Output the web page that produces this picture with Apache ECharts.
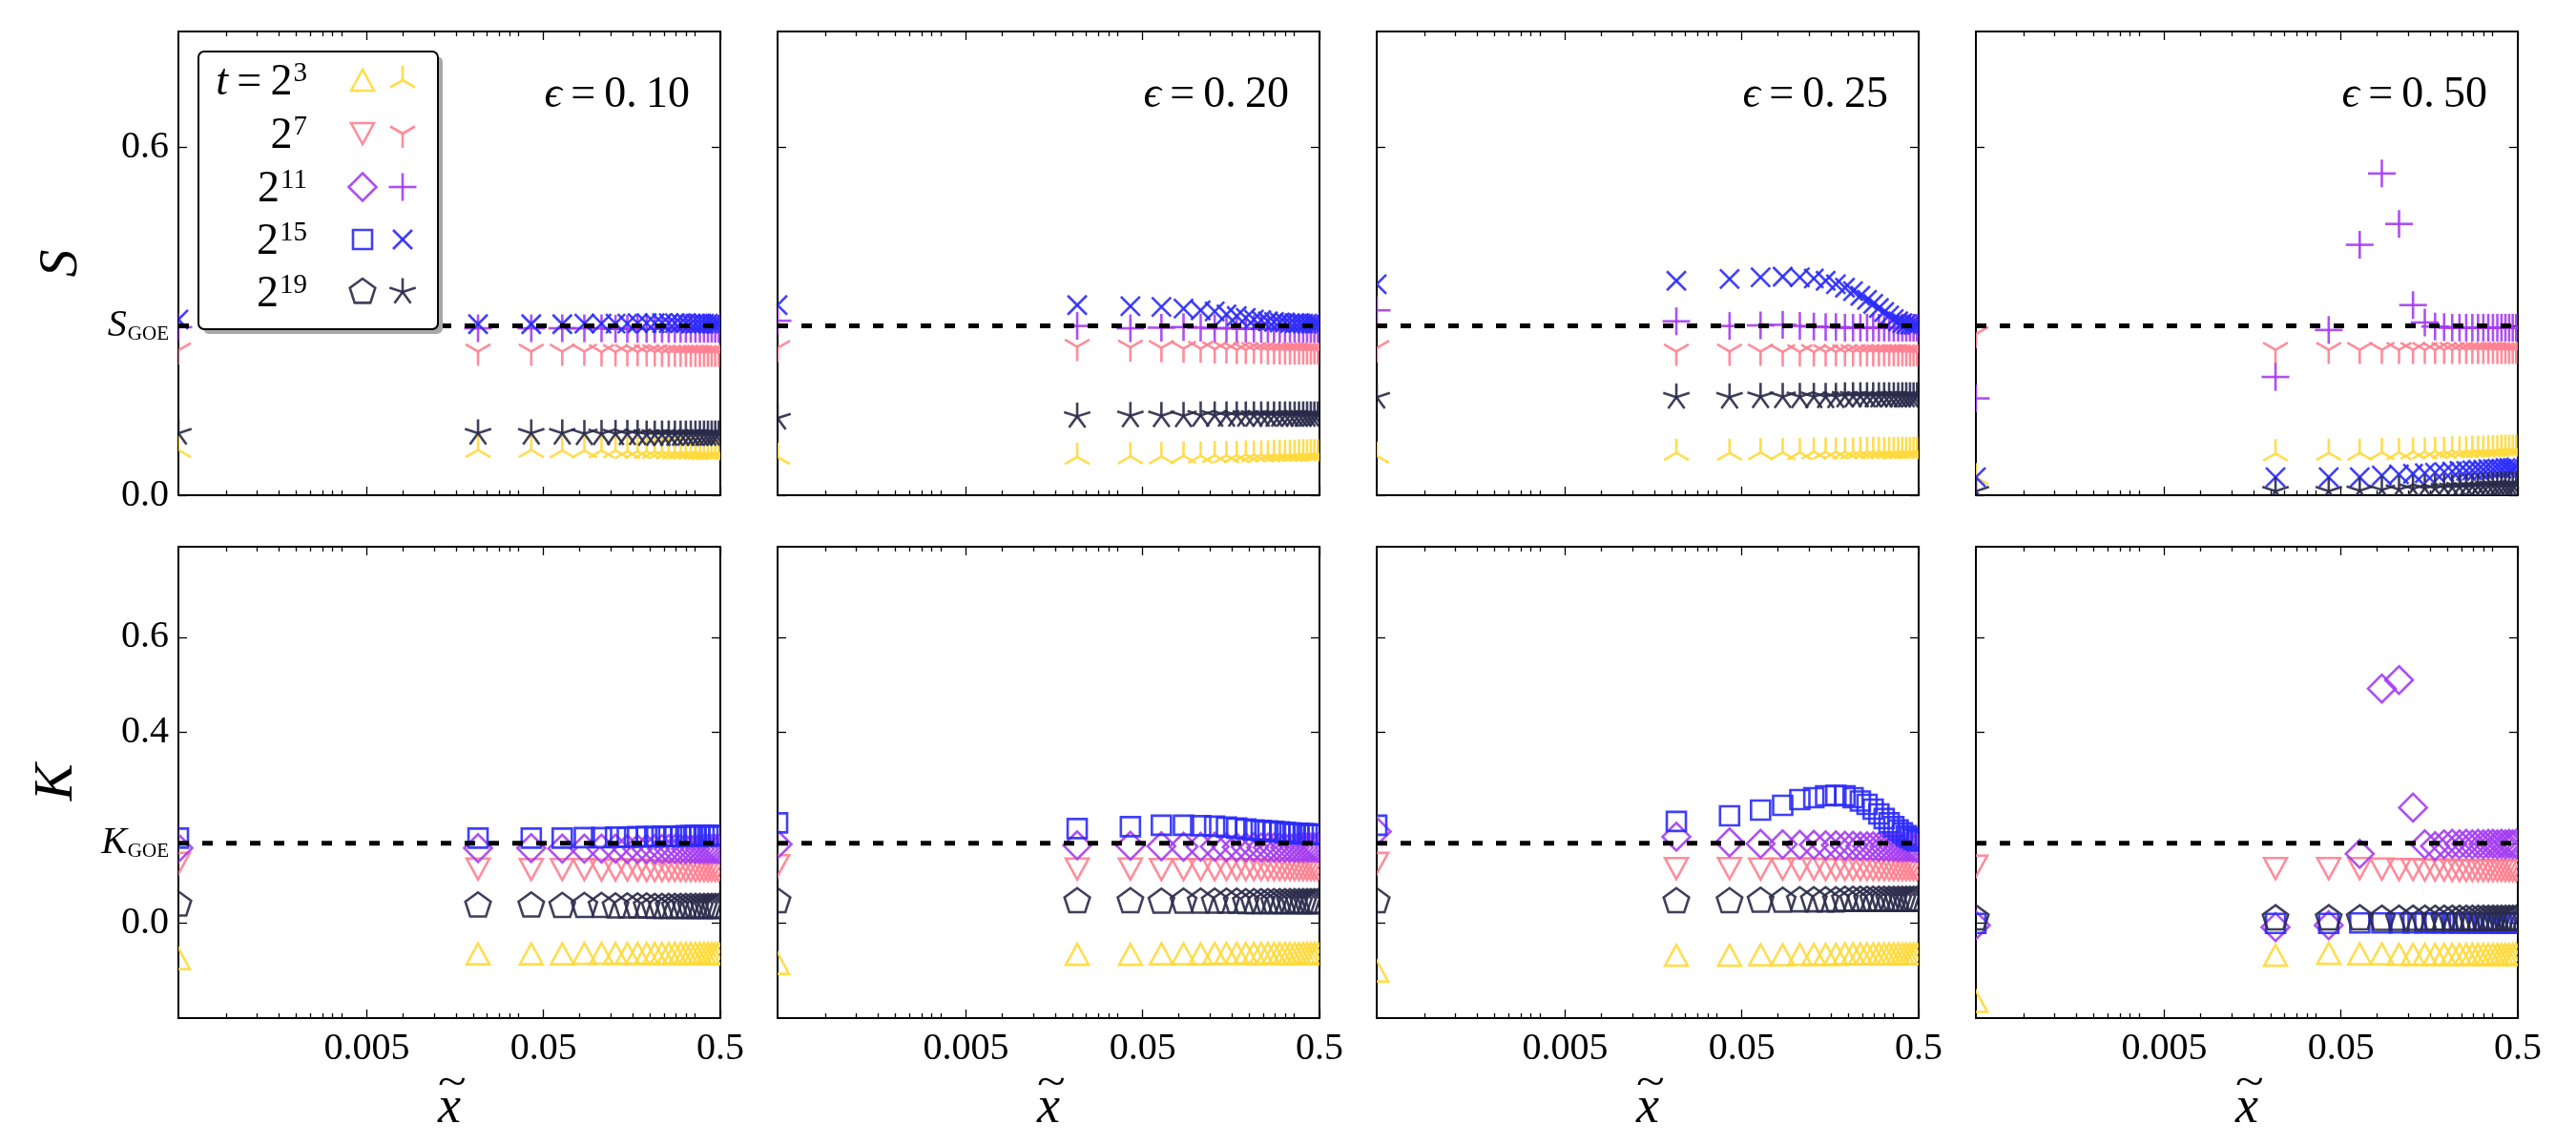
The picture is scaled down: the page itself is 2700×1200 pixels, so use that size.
<!DOCTYPE html>
<html>
<head>
<meta charset="utf-8">
<script src="https://cdn.jsdelivr.net/npm/echarts@6/dist/echarts.min.js"></script>
<style>
  html, body { margin: 0; background: #fff; }
  #chart { width: 2700px; height: 1200px; }
</style>
</head>
<body>
<div id="chart"></div>
<script>
// ---- data ----
var xVals = [0.00043, 0.0213, 0.0426, 0.0638, 0.0851, 0.1064, 0.1277, 0.1489, 0.1702, 0.1915, 0.2128, 0.2340,
  0.2553, 0.2766, 0.2979, 0.3191, 0.3404, 0.3617, 0.3830, 0.4043, 0.4255, 0.4468, 0.4681, 0.4894];
var xMin = 0.00043, xMax = 0.5;
var xMajorTicks = [0.005, 0.05, 0.5];
var xMajorLabels = ['0.005', '0.05', '0.5'];
var xMinorTicks = [0.0008, 0.0012, 0.0016, 0.002, 0.0024, 0.0028, 0.0032, 0.0036,
  0.008, 0.012, 0.016, 0.02, 0.024, 0.028, 0.032, 0.036,
  0.08, 0.12, 0.16, 0.2, 0.24, 0.28, 0.32, 0.36];
var epsLabels = ['0.\u200910', '0.\u200920', '0.\u200925', '0.\u200950'];
var tExponents = ['3', '7', '11', '15', '19'];
var S_GOE = 0.292, K_GOE = 0.167;
var sRange = [0, 0.8], kRange = [-0.2, 0.79];
var sTicks = [0, S_GOE, 0.6];
var kTicks = [0, K_GOE, 0.4, 0.6];

// skewness S, eps = 0.10
var s10_t3  = [0.078, 0.078, 0.078, 0.077, 0.077, 0.077, 0.077, 0.076, 0.076, 0.076, 0.076, 0.076, 0.075, 0.075, 0.075, 0.075, 0.075, 0.075, 0.075, 0.074, 0.074, 0.074, 0.074, 0.074];
var s10_t7  = [0.250, 0.248, 0.248, 0.248, 0.248, 0.247, 0.247, 0.247, 0.247, 0.247, 0.247, 0.246, 0.246, 0.246, 0.246, 0.246, 0.246, 0.246, 0.246, 0.246, 0.246, 0.246, 0.246, 0.246];
var s10_t11 = [0.290, 0.288, 0.288, 0.288, 0.288, 0.288, 0.287, 0.287, 0.287, 0.287, 0.287, 0.287, 0.287, 0.287, 0.287, 0.287, 0.287, 0.287, 0.287, 0.287, 0.287, 0.287, 0.287, 0.287];
var s10_t15 = [0.303, 0.295, 0.295, 0.295, 0.296, 0.296, 0.296, 0.296, 0.297, 0.297, 0.297, 0.297, 0.297, 0.297, 0.297, 0.297, 0.296, 0.296, 0.296, 0.296, 0.296, 0.296, 0.296, 0.296];
var s10_t19 = [0.107, 0.107, 0.107, 0.107, 0.106, 0.106, 0.106, 0.106, 0.106, 0.105, 0.105, 0.105, 0.105, 0.105, 0.105, 0.105, 0.105, 0.105, 0.105, 0.105, 0.105, 0.105, 0.105, 0.105];
// S, eps = 0.20
var s20_t3  = [0.066, 0.066, 0.067, 0.067, 0.068, 0.068, 0.069, 0.069, 0.069, 0.070, 0.070, 0.070, 0.070, 0.071, 0.071, 0.071, 0.071, 0.071, 0.072, 0.072, 0.072, 0.072, 0.072, 0.072];
var s20_t7  = [0.254, 0.256, 0.255, 0.254, 0.253, 0.253, 0.252, 0.252, 0.251, 0.251, 0.251, 0.251, 0.250, 0.250, 0.250, 0.250, 0.250, 0.250, 0.250, 0.250, 0.250, 0.250, 0.250, 0.250];
var s20_t11 = [0.301, 0.292, 0.288, 0.289, 0.290, 0.289, 0.288, 0.288, 0.288, 0.287, 0.287, 0.287, 0.287, 0.287, 0.287, 0.287, 0.287, 0.287, 0.287, 0.287, 0.287, 0.287, 0.287, 0.287];
var s20_t15 = [0.328, 0.328, 0.326, 0.325, 0.322, 0.319, 0.317, 0.312, 0.309, 0.306, 0.303, 0.302, 0.300, 0.299, 0.298, 0.298, 0.297, 0.297, 0.297, 0.296, 0.296, 0.296, 0.296, 0.296];
var s20_t19 = [0.133, 0.136, 0.137, 0.137, 0.137, 0.138, 0.138, 0.138, 0.138, 0.138, 0.138, 0.138, 0.138, 0.138, 0.138, 0.138, 0.138, 0.138, 0.138, 0.138, 0.138, 0.138, 0.138, 0.138];
// S, eps = 0.25
var s25_t3  = [0.068, 0.073, 0.073, 0.074, 0.074, 0.074, 0.075, 0.075, 0.075, 0.075, 0.075, 0.076, 0.076, 0.076, 0.076, 0.076, 0.076, 0.076, 0.076, 0.076, 0.076, 0.076, 0.076, 0.076];
var s25_t7  = [0.254, 0.248, 0.248, 0.248, 0.247, 0.247, 0.247, 0.247, 0.247, 0.247, 0.247, 0.247, 0.247, 0.247, 0.247, 0.247, 0.247, 0.247, 0.247, 0.247, 0.247, 0.247, 0.247, 0.247];
var s25_t11 = [0.319, 0.300, 0.292, 0.293, 0.294, 0.292, 0.291, 0.290, 0.290, 0.289, 0.289, 0.289, 0.289, 0.289, 0.289, 0.289, 0.289, 0.289, 0.289, 0.289, 0.289, 0.289, 0.289, 0.289];
var s25_t15 = [0.364, 0.370, 0.373, 0.376, 0.377, 0.376, 0.374, 0.370, 0.364, 0.358, 0.352, 0.344, 0.337, 0.330, 0.323, 0.316, 0.310, 0.304, 0.300, 0.297, 0.295, 0.294, 0.294, 0.294];
var s25_t19 = [0.169, 0.169, 0.169, 0.170, 0.170, 0.170, 0.170, 0.170, 0.170, 0.171, 0.171, 0.171, 0.171, 0.171, 0.171, 0.171, 0.171, 0.171, 0.171, 0.171, 0.171, 0.171, 0.171, 0.171];
// S, eps = 0.50
var s50_t3  = [0.031, 0.072, 0.073, 0.073, 0.074, 0.074, 0.075, 0.075, 0.076, 0.076, 0.077, 0.077, 0.077, 0.078, 0.078, 0.078, 0.079, 0.079, 0.079, 0.080, 0.080, 0.080, 0.080, 0.080];
var s50_t7  = [0.278, 0.251, 0.251, 0.251, 0.251, 0.251, 0.251, 0.251, 0.251, 0.251, 0.251, 0.251, 0.251, 0.251, 0.251, 0.251, 0.251, 0.251, 0.251, 0.251, 0.251, 0.251, 0.251, 0.251];
var s50_t11 = [0.167, 0.204, 0.285, 0.432, 0.555, 0.468, 0.328, 0.298, 0.291, 0.290, 0.289, 0.289, 0.289, 0.289, 0.289, 0.289, 0.289, 0.289, 0.289, 0.289, 0.289, 0.289, 0.289, 0.289];
var s50_t15 = [0.031, 0.031, 0.031, 0.031, 0.034, 0.036, 0.037, 0.038, 0.039, 0.040, 0.041, 0.042, 0.042, 0.043, 0.044, 0.044, 0.045, 0.045, 0.046, 0.046, 0.047, 0.047, 0.047, 0.048];
var s50_t19 = [0.007, 0.007, 0.007, 0.008, 0.009, 0.010, 0.011, 0.012, 0.012, 0.013, 0.013, 0.014, 0.014, 0.015, 0.015, 0.015, 0.016, 0.016, 0.016, 0.017, 0.017, 0.017, 0.017, 0.018];

// kurtosis K, eps = 0.10
var k10_t3  = [-0.075, -0.065, -0.065, -0.065, -0.064, -0.064, -0.064, -0.064, -0.064, -0.064, -0.064, -0.064, -0.064, -0.064, -0.064, -0.064, -0.064, -0.064, -0.064, -0.064, -0.064, -0.064, -0.064, -0.064];
var k10_t7  = [0.125, 0.113, 0.112, 0.112, 0.112, 0.111, 0.111, 0.111, 0.111, 0.110, 0.110, 0.110, 0.110, 0.110, 0.110, 0.110, 0.110, 0.110, 0.110, 0.110, 0.110, 0.110, 0.110, 0.110];
var k10_t11 = [0.157, 0.157, 0.157, 0.156, 0.156, 0.156, 0.156, 0.155, 0.155, 0.155, 0.155, 0.155, 0.155, 0.155, 0.155, 0.155, 0.155, 0.155, 0.155, 0.155, 0.155, 0.155, 0.155, 0.155];
var k10_t15 = [0.178, 0.178, 0.178, 0.178, 0.179, 0.179, 0.180, 0.180, 0.181, 0.181, 0.181, 0.182, 0.182, 0.182, 0.182, 0.183, 0.183, 0.183, 0.183, 0.183, 0.183, 0.183, 0.183, 0.183];
var k10_t19 = [0.038, 0.036, 0.036, 0.035, 0.035, 0.035, 0.034, 0.034, 0.034, 0.034, 0.033, 0.033, 0.033, 0.033, 0.033, 0.033, 0.033, 0.033, 0.033, 0.033, 0.033, 0.033, 0.033, 0.033];
// K, eps = 0.20
var k20_t3  = [-0.085, -0.066, -0.066, -0.065, -0.065, -0.065, -0.064, -0.064, -0.064, -0.064, -0.064, -0.064, -0.064, -0.064, -0.064, -0.064, -0.064, -0.064, -0.064, -0.064, -0.064, -0.064, -0.064, -0.064];
var k20_t7  = [0.120, 0.113, 0.113, 0.112, 0.112, 0.112, 0.112, 0.112, 0.112, 0.112, 0.112, 0.112, 0.112, 0.112, 0.112, 0.112, 0.112, 0.112, 0.112, 0.112, 0.112, 0.112, 0.112, 0.112];
var k20_t11 = [0.165, 0.163, 0.162, 0.161, 0.160, 0.160, 0.160, 0.159, 0.159, 0.159, 0.159, 0.158, 0.158, 0.158, 0.158, 0.158, 0.158, 0.158, 0.158, 0.158, 0.158, 0.158, 0.158, 0.158];
var k20_t15 = [0.210, 0.198, 0.202, 0.205, 0.205, 0.204, 0.203, 0.201, 0.199, 0.197, 0.195, 0.194, 0.193, 0.192, 0.191, 0.190, 0.189, 0.188, 0.188, 0.187, 0.187, 0.186, 0.186, 0.186];
var k20_t19 = [0.045, 0.045, 0.045, 0.044, 0.044, 0.044, 0.044, 0.044, 0.044, 0.043, 0.043, 0.043, 0.043, 0.043, 0.043, 0.043, 0.043, 0.043, 0.043, 0.043, 0.043, 0.043, 0.043, 0.043];
// K, eps = 0.25
var k25_t3  = [-0.101, -0.068, -0.068, -0.067, -0.067, -0.066, -0.066, -0.066, -0.066, -0.065, -0.065, -0.065, -0.065, -0.065, -0.065, -0.065, -0.065, -0.065, -0.065, -0.065, -0.065, -0.065, -0.065, -0.065];
var k25_t7  = [0.125, 0.114, 0.114, 0.113, 0.113, 0.113, 0.113, 0.112, 0.112, 0.112, 0.112, 0.112, 0.112, 0.112, 0.112, 0.112, 0.112, 0.112, 0.112, 0.112, 0.112, 0.112, 0.112, 0.112];
var k25_t11 = [0.192, 0.181, 0.169, 0.166, 0.165, 0.164, 0.164, 0.163, 0.163, 0.162, 0.162, 0.161, 0.161, 0.161, 0.160, 0.160, 0.160, 0.160, 0.159, 0.159, 0.159, 0.159, 0.158, 0.158];
var k25_t15 = [0.205, 0.213, 0.225, 0.237, 0.247, 0.259, 0.263, 0.267, 0.268, 0.267, 0.263, 0.256, 0.249, 0.239, 0.229, 0.219, 0.210, 0.202, 0.195, 0.189, 0.183, 0.179, 0.175, 0.172];
var k25_t19 = [0.045, 0.045, 0.045, 0.046, 0.046, 0.047, 0.047, 0.047, 0.047, 0.048, 0.048, 0.048, 0.048, 0.048, 0.048, 0.048, 0.048, 0.048, 0.048, 0.048, 0.048, 0.048, 0.048, 0.048];
// K, eps = 0.50
var k50_t3  = [-0.165, -0.068, -0.064, -0.065, -0.065, -0.066, -0.066, -0.066, -0.066, -0.066, -0.066, -0.066, -0.066, -0.066, -0.066, -0.066, -0.066, -0.066, -0.066, -0.066, -0.066, -0.066, -0.066, -0.066];
var k50_t7  = [0.119, 0.114, 0.114, 0.114, 0.113, 0.112, 0.112, 0.111, 0.111, 0.111, 0.110, 0.110, 0.110, 0.110, 0.110, 0.110, 0.110, 0.110, 0.110, 0.110, 0.110, 0.110, 0.110, 0.110];
var k50_t11 = [-0.005, -0.009, -0.005, 0.145, 0.492, 0.510, 0.242, 0.165, 0.161, 0.165, 0.166, 0.165, 0.166, 0.165, 0.166, 0.165, 0.166, 0.166, 0.165, 0.166, 0.165, 0.166, 0.165, 0.166];
var k50_t15 = [-0.001, -0.001, -0.001, 0.000, 0.000, 0.000, 0.000, 0.000, 0.000, 0.000, 0.000, 0.000, 0.000, 0.000, 0.000, 0.000, 0.000, 0.000, 0.000, 0.000, 0.000, 0.000, 0.000, 0.000];
var k50_t19 = [0.009, 0.009, 0.009, 0.009, 0.008, 0.008, 0.008, 0.008, 0.008, 0.008, 0.008, 0.008, 0.008, 0.008, 0.008, 0.008, 0.008, 0.008, 0.008, 0.008, 0.008, 0.008, 0.008, 0.008];

var sData = [
  [s10_t3, s10_t7, s10_t11, s10_t15, s10_t19],
  [s20_t3, s20_t7, s20_t11, s20_t15, s20_t19],
  [s25_t3, s25_t7, s25_t11, s25_t15, s25_t19],
  [s50_t3, s50_t7, s50_t11, s50_t15, s50_t19]
];
var kData = [
  [k10_t3, k10_t7, k10_t11, k10_t15, k10_t19],
  [k20_t3, k20_t7, k20_t11, k20_t15, k20_t19],
  [k25_t3, k25_t7, k25_t11, k25_t15, k25_t19],
  [k50_t3, k50_t7, k50_t11, k50_t15, k50_t19]
];

// ---- styling ----
var SERIF = "'Liberation Serif', 'DejaVu Serif', serif";
var COLORS = ['#FFD93B', '#FF7F90', '#A43DF2', '#2B2BFA', '#2A2A4A'];
var K_MARKERS = ['triangleUp', 'triangleDown', 'diamond', 'square', 'pentagon'];
var S_MARKERS = ['triUp', 'triDown', 'plus', 'cross', 'star'];
var LW = 2.6, ALPHA = 0.9;
var COL_LEFT = [187, 815, 1443, 2071], PANEL_W = 568;
var ROW_TOP = [33, 573], ROW_H = [486, 494];

// marker outlines in unit coordinates (y down), scaled by sx/sy pixels
var SYMBOLS = {
  triangleUp: { sx: 12, sy: 11, parts: [{ closed: true, pts: [[0, -1], [-1, 1], [1, 1]] }] },
  triangleDown: { sx: 12, sy: 11, parts: [{ closed: true, pts: [[0, 1], [-1, -1], [1, -1]] }] },
  diamond: { sx: 14.5, sy: 14.5, parts: [{ closed: true, pts: [[0, -1], [1, 0], [0, 1], [-1, 0]] }] },
  square: { sx: 10, sy: 10, parts: [{ closed: true, pts: [[-1, -1], [1, -1], [1, 1], [-1, 1]] }] },
  pentagon: { sx: 14, sy: 14, parts: [{ closed: true, pts: [[0, -1], [-0.951, -0.309], [-0.588, 0.809], [0.588, 0.809], [0.951, -0.309]] }] },
  triUp: { sx: 15, sy: 15, parts: [{ pts: [[0, 0], [0, -1]] }, { pts: [[0, 0], [-0.866, 0.5]] }, { pts: [[0, 0], [0.866, 0.5]] }] },
  triDown: { sx: 15, sy: 15, parts: [{ pts: [[0, 0], [0, 1]] }, { pts: [[0, 0], [-0.866, -0.5]] }, { pts: [[0, 0], [0.866, -0.5]] }] },
  plus: { sx: 14.5, sy: 14.5, parts: [{ pts: [[-1, 0], [1, 0]] }, { pts: [[0, -1], [0, 1]] }] },
  cross: { sx: 10, sy: 10, parts: [{ pts: [[-1, -1], [1, 1]] }, { pts: [[-1, 1], [1, -1]] }] },
  star: { sx: 14.5, sy: 14.5, parts: [{ pts: [[0, 0], [0, -1]] }, { pts: [[0, 0], [-0.951, -0.309]] }, { pts: [[0, 0], [-0.588, 0.809]] }, { pts: [[0, 0], [0.588, 0.809]] }, { pts: [[0, 0], [0.951, -0.309]] }] }
};

function markerShapes(name, cx, cy, color, z) {
  var s = SYMBOLS[name];
  return s.parts.map(function (part) {
    return {
      type: part.closed ? 'polygon' : 'polyline',
      z: z,
      shape: { points: part.pts.map(function (p) { return [cx + p[0] * s.sx, cy + p[1] * s.sy]; }) },
      style: { fill: 'none', stroke: color, lineWidth: LW, opacity: ALPHA }
    };
  });
}

function markerRenderer(name, color) {
  return function (params, api) {
    var p = api.coord([api.value(0), api.value(1)]);
    return { type: 'group', children: markerShapes(name, p[0], p[1], color) };
  };
}

function log10(v) { return Math.log(v) / Math.LN10; }
var LOG_MIN = log10(xMin), LOG_MAX = log10(xMax);

function xTickAxis(gridIndex, position, ticks, len, showLabels, minor) {
  var vals = ticks.map(log10);
  return {
    gridIndex: gridIndex, type: 'value', position: position, min: LOG_MIN, max: LOG_MAX,
    axisLine: { show: !minor, onZero: false, lineStyle: { color: '#000', width: 2 } },
    axisTick: { show: true, inside: true, length: len, customValues: vals, lineStyle: { color: '#000', width: 1.3 } },
    axisLabel: {
      show: showLabels, customValues: vals, margin: 12, color: '#000', fontSize: 40, fontFamily: SERIF,
      formatter: function (v) {
        for (var i = 0; i < xMajorTicks.length; i++) {
          if (Math.abs(log10(xMajorTicks[i]) - v) < 1e-6) return xMajorLabels[i];
        }
        return '';
      }
    },
    splitLine: { show: false }
  };
}

function yAxisDef(gridIndex, position, range, ticks, showLabels, goe, goeName) {
  return {
    gridIndex: gridIndex, type: 'value', position: position, min: range[0], max: range[1],
    axisLine: { show: true, onZero: false, lineStyle: { color: '#000', width: 2 } },
    axisTick: { show: true, inside: true, length: 9, customValues: ticks, lineStyle: { color: '#000', width: 1.3 } },
    axisLabel: {
      show: showLabels, customValues: ticks, margin: 10, color: '#000', fontSize: 40, fontFamily: SERIF,
      formatter: function (v) {
        if (Math.abs(v - goe) < 1e-9) return '{it|' + goeName + '}{sub|GOE}';
        return v.toFixed(1);
      },
      rich: {
        it: { fontFamily: SERIF, fontStyle: 'italic', fontSize: 40, color: '#000', verticalAlign: 'middle' },
        sub: { fontFamily: SERIF, fontSize: 21, color: '#000', verticalAlign: 'middle', padding: [18, 0, 0, 1] }
      }
    },
    splitLine: { show: false }
  };
}

var grids = [], xAxes = [], yAxes = [], series = [], graphics = [], dashed = [];

for (var p = 0; p < 8; p++) {
  var row = Math.floor(p / 4), col = p % 4;
  var rect = { left: COL_LEFT[col], top: ROW_TOP[row], width: PANEL_W, height: ROW_H[row], outerBoundsMode: 'none' };
  var g = grids.length;
  grids.push(Object.assign({}, rect), Object.assign({}, rect), Object.assign({}, rect));

  // data grid: log x (hidden), left + right y
  var xi = xAxes.length, yi = yAxes.length;
  xAxes.push({ gridIndex: g, type: 'log', logBase: 10, min: xMin, max: xMax, show: false });
  var isS = row === 0;
  yAxes.push(yAxisDef(g, 'left', isS ? sRange : kRange, isS ? sTicks : kTicks, col === 0, isS ? S_GOE : K_GOE, isS ? 'S' : 'K'));
  yAxes.push(yAxisDef(g, 'right', isS ? sRange : kRange, isS ? sTicks : kTicks, false, isS ? S_GOE : K_GOE, isS ? 'S' : 'K'));

  // major tick frame
  xAxes.push(xTickAxis(g + 1, 'bottom', xMajorTicks, 9, row === 1, false));
  xAxes.push(xTickAxis(g + 1, 'top', xMajorTicks, 9, false, false));
  yAxes.push({ gridIndex: g + 1, type: 'value', show: false });
  // minor ticks
  xAxes.push(xTickAxis(g + 2, 'bottom', xMinorTicks, 5, false, true));
  xAxes.push(xTickAxis(g + 2, 'top', xMinorTicks, 5, false, true));
  yAxes.push({ gridIndex: g + 2, type: 'value', show: false });

  var sets = isS ? sData[col] : kData[col];
  var markers = isS ? S_MARKERS : K_MARKERS;
  for (var t = 0; t < 5; t++) {
    series.push({
      type: 'custom', xAxisIndex: xi, yAxisIndex: yi, clip: true, silent: true,
      data: xVals.map(function (x, k) { return [x, sets[t][k]]; }),
      encode: { x: 0, y: 1 },
      renderItem: markerRenderer(markers[t], COLORS[t])
    });
  }
  var goeVal = isS ? S_GOE : K_GOE;
  dashed.push({
    type: 'line', xAxisIndex: xi, yAxisIndex: yi, silent: true, symbol: 'none', showSymbol: false,
    data: [[xMin, goeVal], [xMax, goeVal]],
    lineStyle: { color: '#000', width: 5, type: [11, 14] }
  });

  if (row === 0) {
    graphics.push({
      type: 'text', x: COL_LEFT[col] + PANEL_W - 32, y: 100, z: 60,
      style: {
        text: '{e|\u03f5}{n|\u2009=\u2009' + epsLabels[col] + '}', align: 'right', verticalAlign: 'middle',
        rich: {
          e: { fontFamily: SERIF, fontStyle: 'italic', fontSize: 46, fill: '#000', verticalAlign: 'middle' },
          n: { fontFamily: SERIF, fontSize: 46, fill: '#000', verticalAlign: 'middle' }
        }
      }
    });
  } else {
    var cx = COL_LEFT[col] + PANEL_W / 2;
    graphics.push({
      type: 'text', x: cx, y: 1162, z: 60,
      style: { text: 'x', fontFamily: SERIF, fontStyle: 'italic', fontSize: 54, fill: '#000', align: 'center', verticalAlign: 'middle' }
    });
    graphics.push({
      type: 'text', x: cx + 3, y: 1136, z: 60, scaleX: 1.25,
      style: { text: '~', fontFamily: SERIF, fontSize: 44, fill: '#000', align: 'center', verticalAlign: 'middle' }
    });
  }
}
series = series.concat(dashed);

// axis names
graphics.push({ type: 'text', x: 65, y: 276, rotation: Math.PI / 2, z: 60,
  style: { text: 'S', fontFamily: SERIF, fontStyle: 'italic', fontSize: 58, fill: '#000', align: 'center', verticalAlign: 'middle' } });
graphics.push({ type: 'text', x: 60, y: 820, rotation: Math.PI / 2, z: 60,
  style: { text: 'K', fontFamily: SERIF, fontStyle: 'italic', fontSize: 58, fill: '#000', align: 'center', verticalAlign: 'middle' } });

// legend box with a drop shadow
graphics.push({ type: 'rect', z: 49, shape: { x: 213, y: 59, width: 251, height: 291, r: 6 },
  style: { fill: '#a8a8a8', stroke: null } });
graphics.push({ type: 'rect', z: 50, shape: { x: 208, y: 54, width: 251, height: 291, r: 6 },
  style: { fill: '#fff', stroke: '#000', lineWidth: 2 } });
var legendRows = [84, 140, 196, 251, 306];
for (var i = 0; i < 5; i++) {
  var label = (i === 0 ? '{i|t}{n|\u2009=\u20092}' : '{n|2}') + '{p|' + tExponents[i] + '}';
  graphics.push({ type: 'text', x: 322, y: legendRows[i] + 3, z: 55,
    style: {
      text: label, align: 'right', verticalAlign: 'middle',
      rich: {
        i: { fontFamily: SERIF, fontStyle: 'italic', fontSize: 46, fill: '#000', verticalAlign: 'middle' },
        n: { fontFamily: SERIF, fontSize: 46, fill: '#000', verticalAlign: 'middle' },
        p: { fontFamily: SERIF, fontSize: 29, fill: '#000', verticalAlign: 'middle', padding: [0, 0, 20, 1] }
      }
    } });
  markerShapes(K_MARKERS[i], 380, legendRows[i], COLORS[i], 55).forEach(function (el) { graphics.push(el); });
  markerShapes(S_MARKERS[i], 422, legendRows[i], COLORS[i], 55).forEach(function (el) { graphics.push(el); });
}

var chart = echarts.init(document.getElementById('chart'));
chart.setOption({
  animation: false,
  backgroundColor: '#fff',
  grid: grids,
  xAxis: xAxes,
  yAxis: yAxes,
  series: series,
  graphic: graphics
});
</script>
</body>
</html>
